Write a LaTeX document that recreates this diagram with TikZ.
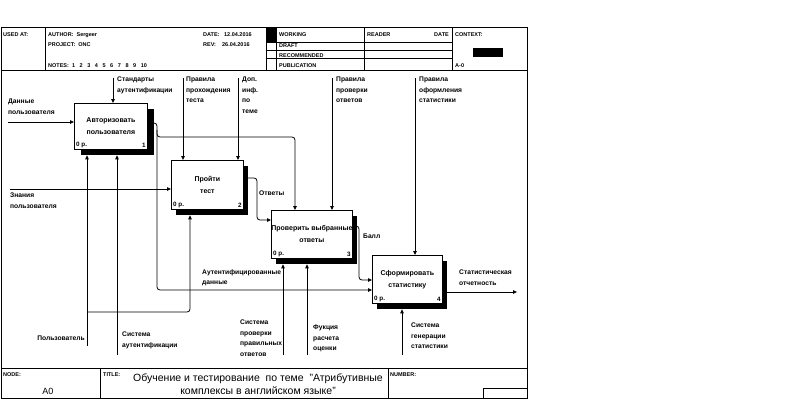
\documentclass[tikz,border=0pt]{standalone}
\usepackage{fontspec}
\setmainfont{Liberation Sans}
\usetikzlibrary{
  arrows.meta,
  shadows
}

\begin{document}
\begin{tikzpicture}[x=1pt, y=-1pt,
    every node/.style = {inner sep=0pt},
    fn/.style = {shape=rectangle, draw, line width=0.8pt, fill=white,
      anchor=north west, align=center,
      font=\fontsize{7}{12}\selectfont\bfseries,
      drop shadow={shadow xshift=#1, shadow yshift=-5.5pt, fill=black, opacity=1}},
    fn/.default = 5pt,
    lbl/.style = {anchor=north west, align=left,
      font=\fontsize{6.7}{10.5}\selectfont\bfseries},
    hdr/.style = {anchor=west, font=\fontsize{5.5}{6}\selectfont\bfseries},
    cnr/.style = {font=\fontsize{6.3}{7}\selectfont\bfseries},
    arr/.style = {line width=0.8pt, -{Triangle[length=4pt,width=3.5pt]}},
    mech/.style = {arr, shorten >=5.5pt},
    frame/.style = {line width=0.8pt}]
    \useasboundingbox (0,0) rectangle (793,410);

    % frame, header and footer
    \draw[frame] (1,27) rectangle (527,398);
    \draw[frame] (1,70) -- (527,70);
    \draw[frame] (1,368) -- (527,368);
    \foreach \x in {45,266,276,364,452}
      \draw[frame] (\x,27) -- (\x,70);
    \foreach \y in {42,50,58}
      \draw[frame] (266,\y) -- (452,\y);
    \fill (266,27) rectangle (276,42);
    \fill (473,48) rectangle (503,57);
    \foreach \x in {100,388}
      \draw[frame] (\x,368) -- (\x,398);
    \draw[frame] (483,398) |- (527,388);

    \node[hdr] (usedat)  at (3,35)   {USED AT:};
    \node[hdr] (author)  at (48,35)  {AUTHOR:\ \ Sergeer};
    \node[hdr] (project) at (48,45)  {PROJECT:\ \ ONC};
    \node[hdr] (notes)   at (48,66)
      {NOTES:\ \ 1\ \ \ 2\ \ \ 3\ \ \ 4\ \ \ 5\ \ \ 6\ \ \ 7\ \ \ 8\ \ \ 9\ \ \ 10};
    \node[hdr] (date)    at (203,35) {DATE:\ \ \ 12.04.2016};
    \node[hdr] (rev)     at (203,45) {REV:\ \ \ \ 26.04.2016};
    \node[hdr] (working) at (279,35) {WORKING};
    \node[hdr] (draft)   at (279,46) {DRAFT};
    \node[hdr] (recom)   at (279,56) {RECOMMENDED};
    \node[hdr] (publ)    at (279,66) {PUBLICATION};
    \node[hdr] (reader)  at (367,35) {READER};
    \node[hdr, anchor=east] (rdate) at (449,35) {DATE};
    \node[hdr] (context) at (455,35) {CONTEXT:};
    \node[hdr] (ctxnode) at (455,66) {A-0};

    \node[hdr] (node)    at (3,375)   {NODE:};
    \node[font=\fontsize{9}{10}\selectfont] (nodeno) at (48,391) {A0};
    \node[hdr] (titlehd) at (103,375) {TITLE:};
    \node[hdr] (number)  at (390,375) {NUMBER:};
    \node[font=\fontsize{10.5}{12.5}\selectfont, align=center] (title) at (258,384)
      {Обучение и тестирование\ \ по теме\ \ "Атрибутивные\\комплексы в английском языке"};

    % functions
    \node[fn=7pt, minimum width=73pt, minimum height=46pt] (b1) at (74,103)
      {Авторизовать\\пользователя};
    \node[fn=4.5pt, minimum width=72pt, minimum height=49pt] (b2) at (171,160)
      {Пройти\\тест};
    \node[fn, minimum width=78pt, minimum height=48pt] (b3) at (271,210)
      {Проверить выбранные\\ответы};
    \node[fn, minimum width=70pt, minimum height=48pt] (b4) at (372,255)
      {Сформировать\\статистику};
    \foreach \b/\n in {b1/1,b2/2,b3/3,b4/4} {
      \node[cnr, anchor=south west] (\b p) at ([shift={(2pt,2pt)}]\b.south west) {0 р.};
      \node[cnr, anchor=south east] (\b n) at ([shift={(-2pt,2pt)}]\b.south east) {\n};
    }

    % controls
    \coordinate (c1) at (113,78);
    \coordinate (c2) at (183,78);
    \coordinate (c3) at (238,78);
    \coordinate (c4) at (332,78);
    \coordinate (c5) at (415,78);
    \draw[arr] (c1) -- (c1 |- b1.north);
    \draw[arr] (c2) -- (c2 |- b2.north);
    \draw[arr] (c3) -- (c3 |- b2.north);
    \draw[arr] (c4) -- (c4 |- b3.north);
    \draw[arr] (c5) -- (c5 |- b4.north);

    % inputs
    \coordinate (i1) at (8,122);
    \coordinate (i2) at (10,189);
    \draw[arr] (i1) -- (i1 -| b1.west);
    \draw[arr] (i2) -- (i2 -| b2.west);

    % mechanisms
    \coordinate (m1) at (87,346);
    \coordinate (m2) at (117,355);
    \coordinate (m3) at (283,355);
    \coordinate (m4) at (307,355);
    \coordinate (m5) at (402,355);
    \coordinate (j2) at (87,312);
    \draw[mech] (m1) -- (m1 |- b1.south);
    \draw[mech] (m2) -- (m2 |- b1.south);
    \draw[mech] (m3) -- (m3 |- b3.south);
    \draw[mech] (m4) -- (m4 |- b3.south);
    \draw[mech] (m5) -- (m5 |- b4.south);
    \draw[mech, rounded corners=3pt] (j2) -- (190,312) -- (190,312 |- b2.south);

    % outputs
    \coordinate (j1) at (157,130);
    \coordinate (o4) at (517,292);
    \draw[arr, rounded corners=3pt] (b1.east |- 0,123) -- (157,123) -- (157,290)
      -- (b4.west |- 0,290);
    \draw[arr, rounded corners=3pt] (j1) -- (157,137) -- (295,137)
      -- (295,137 |- b3.north);
    \draw[arr, rounded corners=3pt] (b2.east |- 0,178) -- (257,178) -- (257,220)
      -- (b3.west |- 0,220);
    \draw[arr, rounded corners=3pt] (b3.east |- 0,226) -- (359,226) -- (359,280)
      -- (b4.west |- 0,280);
    \draw[arr] (b4.east |- o4) -- (o4);

    % arrow labels
    \node[lbl] (lc1) at (117,77)  {Стандарты\\аутентификации};
    \node[lbl] (lc2) at (186,77)  {Правила\\прохождения\\теста};
    \node[lbl] (lc3) at (242,77)  {Доп.\\инф.\\по\\теме};
    \node[lbl] (lc4) at (336,77)  {Правила\\проверки\\ответов};
    \node[lbl] (lc5) at (419,77)  {Правила\\оформления\\статистики};
    \node[lbl] (li1) at (8,99)    {Данные\\пользователя};
    \node[lbl] (li2) at (10,193)  {Знания\\пользователя};
    \node[lbl] (lo2) at (259,191) {Ответы};
    \node[lbl] (lo3) at (363,234) {Балл};
    \node[lbl] (lo1) at (202,269) {Аутентифицированные\\данные};
    \node[lbl] (lo4) at (459,270) {Статистическая\\отчетность};
    \node[lbl, anchor=north east] (lm1) at (85,336) {Пользователь};
    \node[lbl] (lm2) at (122,332) {Система\\аутентификации};
    \node[lbl] (lm3) at (240,320) {Система\\проверки\\правильных\\ответов};
    \node[lbl] (lm4) at (313,325) {Фукция\\расчета\\оценки};
    \node[lbl] (lm5) at (411,323) {Система\\генерации\\статистики};
\end{tikzpicture}
\end{document}
